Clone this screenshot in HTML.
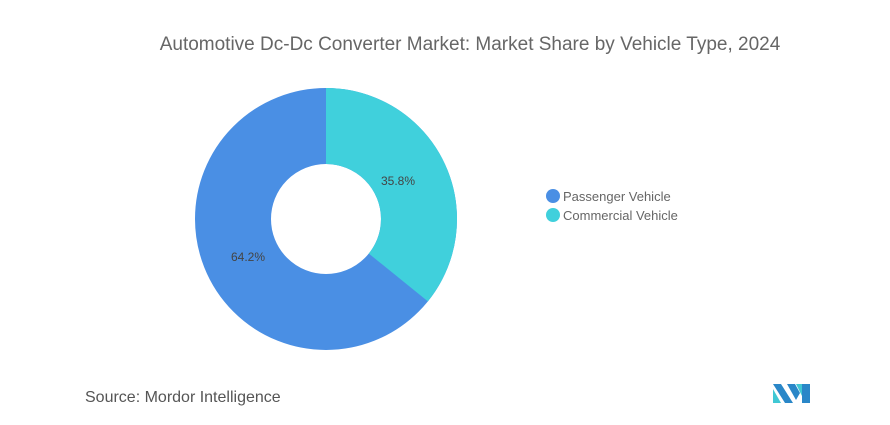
<!DOCTYPE html>
<html><head><style>
body{margin:0;background:#fff;width:890px;height:420px;overflow:hidden;font-family:"Liberation Sans",sans-serif}
</style></head><body>
<svg width="890" height="420" xmlns="http://www.w3.org/2000/svg">
<text x="470" y="50" text-anchor="middle" font-size="19" fill="#666" font-family="Liberation Sans">Automotive Dc-Dc Converter Market: Market Share by Vehicle Type, 2024</text>
<g transform="rotate(-90 326 219)">
<circle cx="326" cy="219" r="93" fill="none" stroke="#4a8fe4" stroke-width="76"/>
<circle cx="326" cy="219" r="93" fill="none" stroke="#40d0dc" stroke-width="76" stroke-dasharray="209.2 600"/>
</g>
<text x="398" y="185" text-anchor="middle" font-size="12" fill="#444">35.8%</text>
<text x="248" y="261" text-anchor="middle" font-size="12" fill="#444">64.2%</text>
<circle cx="553" cy="196" r="7" fill="#4a8fe4"/>
<text x="563" y="201" font-size="13" fill="#666">Passenger Vehicle</text>
<circle cx="553" cy="215" r="7" fill="#40d0dc"/>
<text x="563" y="220" font-size="13" fill="#666">Commercial Vehicle</text>
<text x="85" y="402" font-size="16" fill="#555">Source:  Mordor Intelligence</text>
<g>
<polygon points="773,384 781,384 793,403 785,403" fill="#2a87c8"/>
<polygon points="773,389 781,403 773,403" fill="#40c8d4"/>
<polygon points="787,384 795,384 800,393 796,400" fill="#2a87c8"/>
<polygon points="802,384 810,384 810,403 802,403" fill="#2a87c8"/>
<polygon points="796,384 802,384 802,396" fill="#40c8d4"/>
</g>
</svg>
</body></html>
